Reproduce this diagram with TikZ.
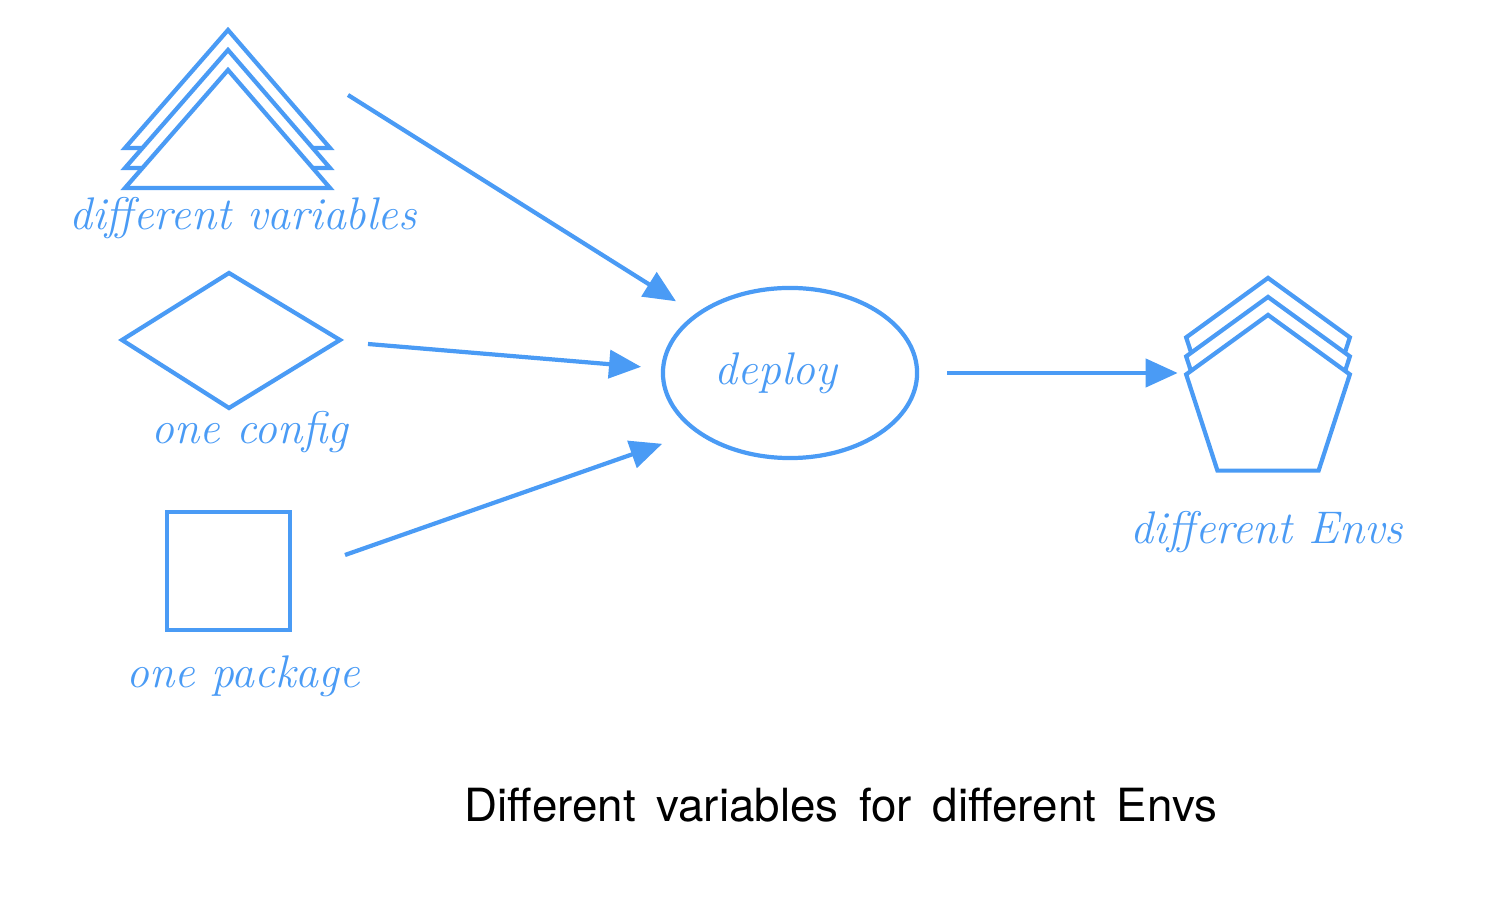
\documentclass[tikz,border=0pt]{standalone}
\usepackage{fontspec}
\setsansfont{TeX Gyre Heros}
\usetikzlibrary{arrows.meta,shapes.geometric}
\definecolor{sketchblue}{RGB}{74,155,245}

\begin{document}
\begin{tikzpicture}[x=0.01cm, y=-0.01cm,
    sketch/.style={draw=sketchblue, line width=1.2pt, fill=white},
    flow/.style={draw=sketchblue, line width=1.2pt, -{Triangle[length=0.32cm, width=0.28cm]}},
    hand/.style={text=sketchblue, font=\fontsize{13}{15}\selectfont\itshape, inner sep=0pt},
    envbox/.style={sketch, regular polygon, regular polygon sides=5, minimum size=1.72cm, inner sep=0pt}]

    \useasboundingbox (0,0) rectangle (1492,904);

    % stacked triangles
    \foreach \dy in {-40, -20, 0} {
        \begin{scope}[shift={(0,\dy)}]
            \draw[sketch] (228,70) -- (330,188) -- (125,188) -- cycle;
        \end{scope}
    }
    \node[hand] (varslabel) at (243,218) {different variables};

    % diamond
    \draw[sketch] (122,340) -- (229,273) -- (340,340) -- (229,408) -- cycle;
    \node[hand] (configlabel) at (250,432) {one config};

    % square
    \draw[sketch] (167,512) rectangle (290,630);
    \node[hand] (pkglabel) at (243,676) {one package};

    % deploy
    \node[sketch, ellipse, minimum width=2.54cm, minimum height=1.70cm, inner sep=0pt] (deploy) at (790,373) {};
    \node[hand] (deploylabel) at (776,373) {deploy};

    % stacked pentagons
    \foreach \dy/\nm in {-37/envback, -18/envmid, 0/envs} {
        \node[envbox] (\nm) at (1268,{401+\dy}) {};
    }
    \node[hand] (envslabel) at (1267,532) {different Envs};

    % arrows
    \coordinate (varsout) at (348,95);
    \coordinate (configout) at (368,344);
    \coordinate (pkgout) at (345,555);
    \draw[flow, shorten >=0.23cm] (varsout) -- (deploy);
    \draw[flow, shorten >=0.2cm] (configout) -- (deploy.178);
    \draw[flow, shorten >=0.35cm] (pkgout) -- (deploy.212);
    \draw[flow, shorten <=0.28cm, shorten >=0.06cm] (deploy.east) -- (deploy.east -| envs.corner 2);

    \node[font=\sffamily\fontsize{13}{15}\selectfont, inner sep=0pt] (caption) at (841,805)
        {Different\hspace{0.45em}variables\hspace{0.45em}for\hspace{0.45em}different\hspace{0.45em}Envs};

\end{tikzpicture}
\end{document}
